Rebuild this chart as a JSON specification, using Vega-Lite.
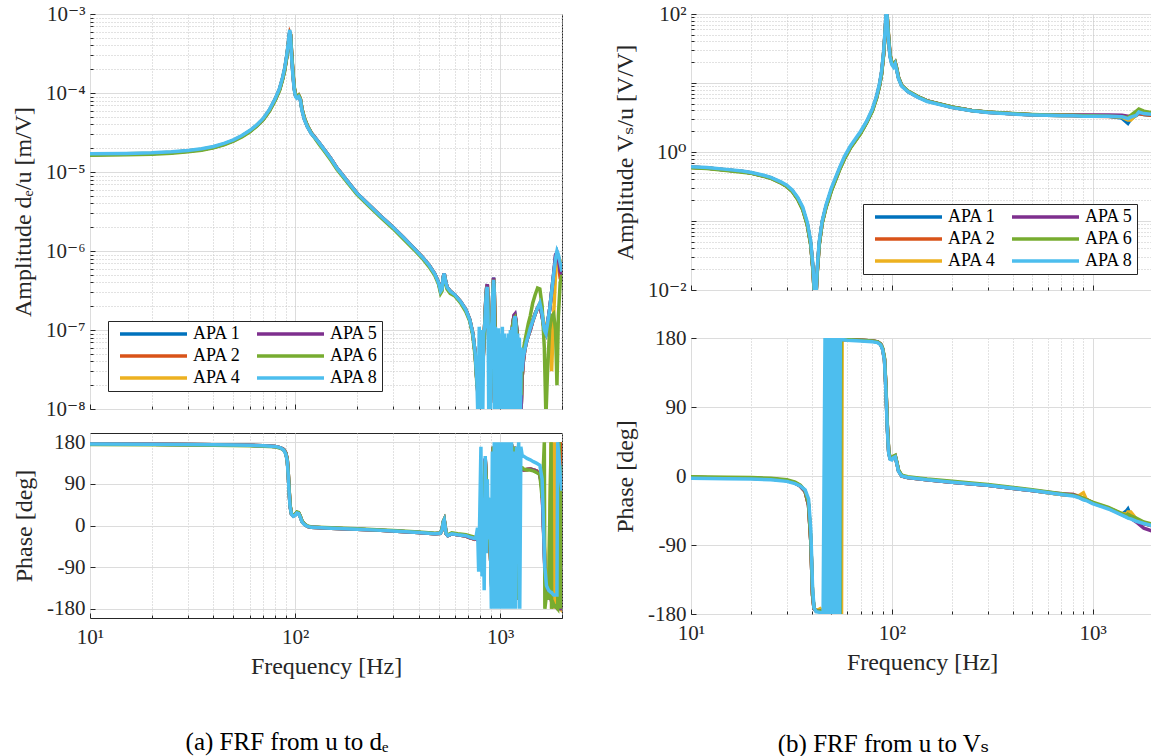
{
  "$schema": "https://vega.github.io/schema/vega-lite/v6.json",
  "background": "white",
  "padding": {"left": 11, "top": 2, "right": 0, "bottom": 0},
  "config": {
    "font": "Liberation Serif, DejaVu Serif, serif",
    "view": {"stroke": "#262626", "strokeWidth": 1},
    "axis": {
      "labelFont": "Liberation Serif, DejaVu Serif, serif", "titleFont": "Liberation Serif, DejaVu Serif, serif",
      "labelFontSize": 21, "titleFontSize": 24, "titleFontWeight": "normal",
      "labelColor": "#262626", "titleColor": "#262626", "domain": false,
      "tickColor": "#262626", "labelFlush": false, "labelOverlap": false, "labelBound": false
    },
    "legend": {
      "columns": 2, "title": null, "offset": 18,
      "symbolType": "M-1,0H66", "symbolSize": 4, "symbolStrokeWidth": 3.5,
      "labelFont": "Liberation Serif, DejaVu Serif, serif", "labelFontSize": 18,
      "labelColor": "#000", "labelOffset": 63, "strokeColor": "#262626", "fillColor": "white",
      "padding": 4, "columnPadding": 8, "rowPadding": 4
    },
    "title": {"font": "Liberation Serif, DejaVu Serif, serif", "fontSize": 25, "fontWeight": "normal", "color": "#000"}
  },
  "resolve": {"scale": {"color": "independent"}, "legend": {"color": "independent"}},
  "spacing": 50,
  "hconcat": [
    {
      "title": {"text": "(a) FRF from u to dₑ", "orient": "bottom", "anchor": "middle", "frame": "bounds", "offset": 51},
      "spacing": 10,
      "resolve": {"scale": {"color": "independent"}, "legend": {"color": "independent"}},
      "vconcat": [
        {
          "width": 472, "height": 395,
          "data": {"name": "ampDe"},
          "transform": [{"fold": ["1", "2", "4", "5", "6", "8"], "as": ["apa", "v"]}],
          "mark": {"type": "line", "strokeWidth": 3.5, "clip": true},
          "encoding": {
            "x": {"field": "f", "type": "quantitative", "scale": {"type": "log", "domain": [10, 2000]},
              "axis": {"values": [10,20,30,40,50,60,70,80,90,100,200,300,400,500,600,700,800,900,1000,2000],
                "labels": false, "title": null,
                "gridDash": {"condition": {"test": "datum.value == 10 || datum.value == 100 || datum.value == 1000", "value": []}, "value": [1, 2]},
                "gridColor": {"condition": {"test": "datum.value == 10 || datum.value == 100 || datum.value == 1000", "value": "#dcdcdc"}, "value": "#c4c4c4"},
                "tickSize": {"condition": {"test": "datum.value == 10 || datum.value == 100 || datum.value == 1000", "value": -5}, "value": -3}}},
            "y": {"field": "v", "type": "quantitative", "scale": {"type": "log", "domain": [1e-8, 1e-3]},
              "axis": {"title": "Amplitude dₑ/u [m/V]", "titlePadding": 10,
                "values": [1e-8,2e-8,3e-8,4e-8,5e-8,6e-8,7e-8,8e-8,9e-8,1e-7,2e-7,3e-7,4e-7,5e-7,6e-7,7e-7,8e-7,9e-7,1e-6,2e-6,3e-6,4e-6,5e-6,6e-6,7e-6,8e-6,9e-6,1e-5,2e-5,3e-5,4e-5,5e-5,6e-5,7e-5,8e-5,9e-5,1e-4,2e-4,3e-4,4e-4,5e-4,6e-4,7e-4,8e-4,9e-4,1e-3],
                "labelExpr": "abs(log(datum.value)/LN10 - round(log(datum.value)/LN10)) < 0.001 ? '10' + replace(replace(replace(replace(replace(replace(replace(replace(replace(replace('' + round(log(datum.value)/LN10), '-', '⁻'), '0', '⁰'), '1', '¹'), '2', '²'), '3', '³'), '4', '⁴'), '5', '⁵'), '6', '⁶'), '7', '⁷'), '8', '⁸') : ''",
                "labelPadding": 10,
                "gridDash": {"condition": {"test": "abs(log(datum.value)/LN10 - round(log(datum.value)/LN10)) < 0.001", "value": []}, "value": [1, 2]},
                "gridColor": {"condition": {"test": "abs(log(datum.value)/LN10 - round(log(datum.value)/LN10)) < 0.001", "value": "#dcdcdc"}, "value": "#c4c4c4"},
                "tickSize": {"condition": {"test": "abs(log(datum.value)/LN10 - round(log(datum.value)/LN10)) < 0.001", "value": -5}, "value": -3}}},
            "color": {"field": "apa", "type": "nominal",
              "scale": {"domain": ["1", "2", "4", "5", "6", "8"], "range": ["#0072BD", "#D95319", "#EDB120", "#7E2F8E", "#77AC30", "#4DBEEE"]},
              "legend": {"orient": "bottom-left", "labelExpr": "'APA ' + datum.label"}}
          }
        },
        {
          "width": 472, "height": 185,
          "data": {"name": "phDe"},
          "transform": [{"fold": ["1", "2", "4", "5", "6", "8"], "as": ["apa", "v"]}],
          "mark": {"type": "line", "strokeWidth": 3.5, "clip": true},
          "encoding": {
            "x": {"field": "f", "type": "quantitative", "scale": {"type": "log", "domain": [10, 2000]},
              "axis": {"values": [10,20,30,40,50,60,70,80,90,100,200,300,400,500,600,700,800,900,1000,2000],
                "labelExpr": "datum.value == 10 ? '10¹' : datum.value == 100 ? '10²' : datum.value == 1000 ? '10³' : ''",
                "title": "Frequency [Hz]", "labelPadding": 13, "titlePadding": 5,
                "gridDash": {"condition": {"test": "datum.value == 10 || datum.value == 100 || datum.value == 1000", "value": []}, "value": [1, 2]},
                "gridColor": {"condition": {"test": "datum.value == 10 || datum.value == 100 || datum.value == 1000", "value": "#dcdcdc"}, "value": "#c4c4c4"},
                "tickSize": {"condition": {"test": "datum.value == 10 || datum.value == 100 || datum.value == 1000", "value": -5}, "value": -3}}},
            "y": {"field": "v", "type": "quantitative", "scale": {"domain": [-200, 200]},
              "axis": {"title": "Phase [deg]", "titlePadding": 10, "values": [-180, -90, 0, 90, 180],
                "labelExpr": "'' + datum.value", "labelPadding": 10, "tickSize": -5, "gridColor": "#dcdcdc"}},
            "color": {"field": "apa", "type": "nominal",
              "scale": {"domain": ["1", "2", "4", "5", "6", "8"], "range": ["#0072BD", "#D95319", "#EDB120", "#7E2F8E", "#77AC30", "#4DBEEE"]},
              "legend": null}
          }
        }
      ]
    },
    {
      "title": {"text": "(b) FRF from u to Vₛ", "orient": "bottom", "anchor": "middle", "frame": "bounds", "offset": 57},
      "spacing": 25,
      "resolve": {"scale": {"color": "independent"}, "legend": {"color": "independent"}},
      "vconcat": [
        {
          "width": 462, "height": 276,
          "data": {"name": "ampVs"},
          "transform": [{"fold": ["1", "2", "4", "5", "6", "8"], "as": ["apa", "v"]}],
          "mark": {"type": "line", "strokeWidth": 3.5, "clip": true},
          "encoding": {
            "x": {"field": "f", "type": "quantitative", "scale": {"type": "log", "domain": [10, 2000]},
              "axis": {"values": [10,20,30,40,50,60,70,80,90,100,200,300,400,500,600,700,800,900,1000,2000],
                "labels": false, "title": null,
                "gridDash": {"condition": {"test": "datum.value == 10 || datum.value == 100 || datum.value == 1000", "value": []}, "value": [1, 2]},
                "gridColor": {"condition": {"test": "datum.value == 10 || datum.value == 100 || datum.value == 1000", "value": "#dcdcdc"}, "value": "#c4c4c4"},
                "tickSize": {"condition": {"test": "datum.value == 10 || datum.value == 100 || datum.value == 1000", "value": -5}, "value": -3}}},
            "y": {"field": "v", "type": "quantitative", "scale": {"type": "log", "domain": [0.01, 100]},
              "axis": {"title": "Amplitude Vₛ/u [V/V]", "titlePadding": 10,
                "values": [0.01,0.02,0.03,0.04,0.05,0.06,0.07,0.08,0.09,0.1,0.2,0.3,0.4,0.5,0.6,0.7,0.8,0.9,1,2,3,4,5,6,7,8,9,10,20,30,40,50,60,70,80,90,100],
                "labelExpr": "abs(log(datum.value)/LN10) < 0.001 || abs(abs(log(datum.value)/LN10) - 2) < 0.001 ? '10' + replace(replace(replace('' + round(log(datum.value)/LN10), '-', '⁻'), '0', '⁰'), '2', '²') : ''",
                "labelPadding": 10,
                "gridDash": {"condition": {"test": "abs(log(datum.value)/LN10 - round(log(datum.value)/LN10)) < 0.001", "value": []}, "value": [1, 2]},
                "gridColor": {"condition": {"test": "abs(log(datum.value)/LN10 - round(log(datum.value)/LN10)) < 0.001", "value": "#dcdcdc"}, "value": "#c4c4c4"},
                "tickSize": {"condition": {"test": "abs(log(datum.value)/LN10 - round(log(datum.value)/LN10)) < 0.001", "value": -5}, "value": -3}}},
            "color": {"field": "apa", "type": "nominal",
              "scale": {"domain": ["1", "2", "4", "5", "6", "8"], "range": ["#0072BD", "#D95319", "#EDB120", "#7E2F8E", "#77AC30", "#4DBEEE"]},
              "legend": {"orient": "bottom-right", "offset": 16, "labelExpr": "'APA ' + datum.label"}}
          }
        },
        {
          "width": 462, "height": 276,
          "data": {"name": "phVs"},
          "transform": [{"fold": ["1", "2", "4", "5", "6", "8"], "as": ["apa", "v"]}],
          "mark": {"type": "line", "strokeWidth": 3.5, "clip": true},
          "encoding": {
            "x": {"field": "f", "type": "quantitative", "scale": {"type": "log", "domain": [10, 2000]},
              "axis": {"values": [10,20,30,40,50,60,70,80,90,100,200,300,400,500,600,700,800,900,1000,2000],
                "labelExpr": "datum.value == 10 ? '10¹' : datum.value == 100 ? '10²' : datum.value == 1000 ? '10³' : ''",
                "title": "Frequency [Hz]", "labelPadding": 13, "titlePadding": 5,
                "gridDash": {"condition": {"test": "datum.value == 10 || datum.value == 100 || datum.value == 1000", "value": []}, "value": [1, 2]},
                "gridColor": {"condition": {"test": "datum.value == 10 || datum.value == 100 || datum.value == 1000", "value": "#dcdcdc"}, "value": "#c4c4c4"},
                "tickSize": {"condition": {"test": "datum.value == 10 || datum.value == 100 || datum.value == 1000", "value": -5}, "value": -3}}},
            "y": {"field": "v", "type": "quantitative", "scale": {"domain": [-180, 180]},
              "axis": {"title": "Phase [deg]", "titlePadding": 10, "values": [-180, -90, 0, 90, 180],
                "labelExpr": "'' + datum.value", "labelPadding": 10, "tickSize": -5, "gridColor": "#dcdcdc"}},
            "color": {"field": "apa", "type": "nominal",
              "scale": {"domain": ["1", "2", "4", "5", "6", "8"], "range": ["#0072BD", "#D95319", "#EDB120", "#7E2F8E", "#77AC30", "#4DBEEE"]},
              "legend": null}
          }
        }
      ]
    }
  ],
  "datasets": {
    "ampDe": [
      {"f":10,"1":1.67e-5,"2":1.66e-5,"4":1.68e-5,"5":1.67e-5,"6":1.63e-5,"8":1.7e-5},
      {"f":15,"1":1.69e-5,"2":1.68e-5,"4":1.7e-5,"5":1.69e-5,"6":1.65e-5,"8":1.72e-5},
      {"f":20,"1":1.72e-5,"2":1.71e-5,"4":1.73e-5,"5":1.72e-5,"6":1.68e-5,"8":1.75e-5},
      {"f":25,"1":1.77e-5,"2":1.76e-5,"4":1.78e-5,"5":1.77e-5,"6":1.73e-5,"8":1.8e-5},
      {"f":30,"1":1.84e-5,"2":1.83e-5,"4":1.85e-5,"5":1.84e-5,"6":1.8e-5,"8":1.87e-5},
      {"f":35,"1":1.93e-5,"2":1.92e-5,"4":1.94e-5,"5":1.93e-5,"6":1.89e-5,"8":1.97e-5},
      {"f":40,"1":2.06e-5,"2":2.05e-5,"4":2.07e-5,"5":2.06e-5,"6":2.02e-5,"8":2.1e-5},
      {"f":45,"1":2.25e-5,"2":2.24e-5,"4":2.26e-5,"5":2.25e-5,"6":2.21e-5,"8":2.3e-5},
      {"f":50,"1":2.5e-5,"2":2.49e-5,"4":2.51e-5,"5":2.5e-5,"6":2.45e-5,"8":2.55e-5},
      {"f":55,"1":2.84e-5,"2":2.83e-5,"4":2.85e-5,"5":2.84e-5,"6":2.78e-5,"8":2.9e-5},
      {"f":60,"1":3.28e-5,"2":3.26e-5,"4":3.3e-5,"5":3.28e-5,"6":3.2e-5,"8":3.35e-5},
      {"f":65,"1":3.87e-5,"2":3.85e-5,"4":3.9e-5,"5":3.87e-5,"6":3.8e-5,"8":3.95e-5},
      {"f":70,"1":4.7e-5,"2":4.65e-5,"4":4.72e-5,"5":4.7e-5,"6":4.6e-5,"8":4.8e-5},
      {"f":75,"1":6.05e-5,"2":6e-5,"4":6.1e-5,"5":6.05e-5,"6":5.9e-5,"8":6.2e-5},
      {"f":80,"1":8.3e-5,"2":8.2e-5,"4":8.35e-5,"5":8.3e-5,"6":8.1e-5,"8":8.5e-5},
      {"f":84,"1":1.12e-4,"2":1.1e-4,"4":1.13e-4,"5":1.12e-4,"6":1.08e-4,"8":1.15e-4},
      {"f":87,"1":1.55e-4,"2":1.52e-4,"4":1.56e-4,"5":1.55e-4,"6":1.5e-4,"8":1.6e-4},
      {"f":89,"1":2.0e-4,"2":1.97e-4,"4":2.02e-4,"5":2.0e-4,"6":1.95e-4,"8":2.1e-4},
      {"f":91,"1":2.9e-4,"2":2.85e-4,"4":2.92e-4,"5":2.9e-4,"6":2.8e-4,"8":3.0e-4},
      {"f":92.5,"1":4.0e-4,"2":3.9e-4,"4":4.05e-4,"5":4.0e-4,"6":3.9e-4,"8":4.2e-4},
      {"f":93.5,"1":5.3e-4,"2":5.2e-4,"4":5.3e-4,"5":5.3e-4,"6":5.0e-4,"8":5.6e-4},
      {"f":94.2,"1":5.9e-4,"2":5.8e-4,"4":5.9e-4,"5":5.9e-4,"6":5.6e-4,"8":6.3e-4},
      {"f":95,"1":5.4e-4,"2":5.5e-4,"4":5.4e-4,"5":5.4e-4,"6":5.5e-4,"8":5.2e-4},
      {"f":96,"1":3.3e-4,"2":3.4e-4,"4":3.3e-4,"5":3.3e-4,"6":3.5e-4,"8":3.0e-4},
      {"f":97.5,"1":1.8e-4,"2":1.85e-4,"4":1.8e-4,"5":1.8e-4,"6":1.9e-4,"8":1.7e-4},
      {"f":99,"1":1.15e-4,"2":1.17e-4,"4":1.15e-4,"5":1.15e-4,"6":1.2e-4,"8":1.1e-4},
      {"f":100.5,"1":9.3e-5,"2":9.4e-5,"4":9.3e-5,"5":9.3e-5,"6":9.5e-5,"8":9.0e-5},
      {"f":102,"1":8.9e-5,"2":9.0e-5,"4":8.9e-5,"5":8.9e-5,"6":9.1e-5,"8":8.6e-5},
      {"f":104,"1":9.3e-5,"2":9.4e-5,"4":9.3e-5,"5":9.3e-5,"6":9.4e-5,"8":9.0e-5},
      {"f":106,"1":8.4e-5,"2":8.5e-5,"4":8.4e-5,"5":8.4e-5,"6":8.5e-5,"8":8.2e-5},
      {"f":108,"1":6.2e-5,"2":6.3e-5,"4":6.2e-5,"5":6.2e-5,"6":6.3e-5,"8":6.0e-5},
      {"f":111,"1":4.7e-5,"2":4.8e-5,"4":4.7e-5,"5":4.7e-5,"6":4.8e-5,"8":4.6e-5},
      {"f":115,"1":3.75e-5,"2":3.8e-5,"4":3.75e-5,"5":3.75e-5,"6":3.8e-5,"8":3.7e-5},
      {"f":120,"1":3.1e-5,"2":3.1e-5,"4":3.1e-5,"5":3.1e-5,"6":3.1e-5,"8":3.05e-5},
      {"f":130,"1":2.4e-5,"2":2.4e-5,"4":2.4e-5,"5":2.4e-5,"6":2.3e-5,"8":2.4e-5},
      {"f":140,"1":1.85e-5,"2":1.85e-5,"4":1.85e-5,"5":1.85e-5,"6":1.78e-5,"8":1.85e-5},
      {"f":150,"1":1.45e-5,"2":1.45e-5,"4":1.45e-5,"5":1.45e-5,"6":1.39e-5,"8":1.45e-5},
      {"f":160,"1":1.12e-5,"2":1.12e-5,"4":1.12e-5,"5":1.12e-5,"6":1.08e-5,"8":1.12e-5},
      {"f":180,"1":7.6e-6,"2":7.6e-6,"4":7.6e-6,"5":7.6e-6,"6":7.3e-6,"8":7.6e-6},
      {"f":200,"1":5.4e-6,"2":5.4e-6,"4":5.4e-6,"5":5.4e-6,"6":5.2e-6,"8":5.4e-6},
      {"f":230,"1":3.8e-6,"2":3.8e-6,"4":3.8e-6,"5":3.8e-6,"6":3.65e-6,"8":3.8e-6},
      {"f":260,"1":2.8e-6,"2":2.8e-6,"4":2.8e-6,"5":2.8e-6,"6":2.7e-6,"8":2.8e-6},
      {"f":300,"1":2.0e-6,"2":2.0e-6,"4":2.0e-6,"5":2.0e-6,"6":1.92e-6,"8":2.0e-6},
      {"f":340,"1":1.45e-6,"2":1.45e-6,"4":1.45e-6,"5":1.45e-6,"6":1.39e-6,"8":1.45e-6},
      {"f":380,"1":1.08e-6,"2":1.08e-6,"4":1.08e-6,"5":1.08e-6,"6":1.04e-6,"8":1.08e-6},
      {"f":420,"1":8.2e-7,"2":8.2e-7,"4":8.2e-7,"5":8.2e-7,"6":7.9e-7,"8":8.2e-7},
      {"f":450,"1":6.6e-7,"2":6.6e-7,"4":6.6e-7,"5":6.6e-7,"6":6.3e-7,"8":6.6e-7},
      {"f":480,"1":5.1e-7,"2":5.1e-7,"4":5.1e-7,"5":5.1e-7,"6":4.9e-7,"8":5.1e-7},
      {"f":500,"1":4.0e-7,"2":4.0e-7,"4":4.0e-7,"5":4.0e-7,"6":3.8e-7,"8":4.0e-7},
      {"f":512,"1":3.1e-7,"2":3.1e-7,"4":3.1e-7,"5":3.1e-7,"6":2.9e-7,"8":3.1e-7},
      {"f":520,"1":3.3e-7,"2":3.3e-7,"4":3.3e-7,"5":3.3e-7,"6":3.1e-7,"8":3.3e-7},
      {"f":527,"1":4.6e-7,"2":4.6e-7,"4":4.6e-7,"5":4.6e-7,"6":4.4e-7,"8":4.6e-7},
      {"f":533,"1":5.2e-7,"2":5.2e-7,"4":5.2e-7,"5":5.2e-7,"6":5.0e-7,"8":5.2e-7},
      {"f":540,"1":4.3e-7,"2":4.3e-7,"4":4.3e-7,"5":4.3e-7,"6":4.1e-7,"8":4.3e-7},
      {"f":550,"1":3.5e-7,"2":3.5e-7,"4":3.5e-7,"5":3.5e-7,"6":3.3e-7,"8":3.5e-7},
      {"f":570,"1":3.1e-7,"2":3.1e-7,"4":3.1e-7,"5":3.1e-7,"6":2.9e-7,"8":3.1e-7},
      {"f":600,"1":2.8e-7,"2":2.8e-7,"4":2.8e-7,"5":2.8e-7,"6":2.7e-7,"8":2.8e-7},
      {"f":640,"1":2.3e-7,"2":2.3e-7,"4":2.3e-7,"5":2.3e-7,"6":2.2e-7,"8":2.3e-7},
      {"f":680,"1":1.8e-7,"2":1.8e-7,"4":1.8e-7,"5":1.8e-7,"6":1.7e-7,"8":1.8e-7},
      {"f":710,"1":1.35e-7,"2":1.35e-7,"4":1.35e-7,"5":1.35e-7,"6":1.3e-7,"8":1.35e-7},
      {"f":735,"1":9e-8,"2":9e-8,"4":9e-8,"5":9e-8,"6":8.5e-8,"8":9e-8},
      {"f":755,"1":5e-8,"2":5e-8,"4":5e-8,"5":5e-8,"6":4.5e-8,"8":5e-8},
      {"f":770,"1":2.2e-8,"2":2.2e-8,"4":2.2e-8,"5":2.2e-8,"6":2e-8,"8":2.2e-8},
      {"f":780,"1":1.5e-8,"2":1.5e-8,"4":1.4e-8,"5":1.5e-8,"6":1.8e-8,"8":6e-9},
      {"f":790,"1":8e-9,"2":8e-9,"4":9e-9,"5":8e-9,"6":1.2e-8,"8":1.1e-7},
      {"f":800,"1":6e-9,"2":7e-9,"4":6e-9,"5":6e-9,"6":8e-9,"8":5e-9},
      {"f":810,"1":1.5e-8,"2":1.4e-8,"4":1.5e-8,"5":1.5e-8,"6":1.8e-8,"8":1e-7},
      {"f":820,"1":3e-8,"2":2.9e-8,"4":3e-8,"5":3e-8,"6":3.2e-8,"8":5e-9},
      {"f":830,"1":6e-8,"2":5.8e-8,"4":6e-8,"5":6e-8,"6":6.2e-8,"8":9e-8},
      {"f":840,"1":1.2e-7,"2":1.15e-7,"4":1.2e-7,"5":1.2e-7,"6":1.15e-7,"8":1.1e-7},
      {"f":850,"1":2.4e-7,"2":2.3e-7,"4":2.35e-7,"5":2.4e-7,"6":2.2e-7,"8":2.2e-7},
      {"f":858,"1":3.4e-7,"2":3.3e-7,"4":3.35e-7,"5":3.4e-7,"6":3.1e-7,"8":3.2e-7},
      {"f":865,"1":3.8e-7,"2":3.7e-7,"4":3.75e-7,"5":3.8e-7,"6":3.5e-7,"8":3.5e-7},
      {"f":872,"1":2.2e-7,"2":2.1e-7,"4":2.2e-7,"5":2.2e-7,"6":2e-7,"8":1.5e-7},
      {"f":880,"1":6e-8,"2":6e-8,"4":6e-8,"5":6e-8,"6":6e-8,"8":5e-9},
      {"f":888,"1":2e-8,"2":2e-8,"4":2e-8,"5":2e-8,"6":2e-8,"8":9e-8},
      {"f":896,"1":1.2e-8,"2":1.2e-8,"4":1.2e-8,"5":1.2e-8,"6":1.3e-8,"8":5e-9},
      {"f":904,"1":3e-8,"2":3e-8,"4":3e-8,"5":3e-8,"6":3e-8,"8":1e-7},
      {"f":912,"1":1.2e-7,"2":1.15e-7,"4":1.2e-7,"5":1.2e-7,"6":1.1e-7,"8":1.3e-7},
      {"f":920,"1":3.2e-7,"2":3.1e-7,"4":3.1e-7,"5":3.2e-7,"6":3e-7,"8":2.8e-7},
      {"f":928,"1":4.6e-7,"2":4.5e-7,"4":4.5e-7,"5":4.6e-7,"6":4.3e-7,"8":4.3e-7},
      {"f":934,"1":3.6e-7,"2":3.5e-7,"4":3.5e-7,"5":3.6e-7,"6":3.3e-7,"8":3.2e-7},
      {"f":940,"1":1.6e-7,"2":1.5e-7,"4":1.6e-7,"5":1.6e-7,"6":1.5e-7,"8":5e-9},
      {"f":948,"1":6e-8,"2":6e-8,"4":6e-8,"5":6e-8,"6":6e-8,"8":1.1e-7},
      {"f":956,"1":2.5e-8,"2":2.5e-8,"4":2.5e-8,"5":2.5e-8,"6":2.5e-8,"8":5e-9},
      {"f":964,"1":1e-8,"2":1e-8,"4":1e-8,"5":1e-8,"6":1.1e-8,"8":1e-7},
      {"f":972,"1":7e-9,"2":7e-9,"4":7e-9,"5":7e-9,"6":8e-9,"8":5e-9},
      {"f":980,"1":6e-9,"2":6e-9,"4":6e-9,"5":6e-9,"6":7e-9,"8":1.05e-7},
      {"f":990,"1":1.2e-8,"2":1.2e-8,"4":1.2e-8,"5":1.2e-8,"6":1.3e-8,"8":5e-9},
      {"f":1000,"1":3e-8,"2":3e-8,"4":3e-8,"5":3e-8,"6":3e-8,"8":9e-8},
      {"f":1012,"1":5e-8,"2":5e-8,"4":5e-8,"5":5e-8,"6":5e-8,"8":5e-9},
      {"f":1024,"1":4e-8,"2":4e-8,"4":4e-8,"5":4e-8,"6":4e-8,"8":1.1e-7},
      {"f":1036,"1":2.2e-8,"2":2.2e-8,"4":2.2e-8,"5":2.2e-8,"6":2.2e-8,"8":5e-9},
      {"f":1048,"1":1e-8,"2":1e-8,"4":1e-8,"5":1e-8,"6":1.1e-8,"8":9e-8},
      {"f":1060,"1":7e-9,"2":7e-9,"4":7e-9,"5":7e-9,"6":8e-9,"8":5e-9},
      {"f":1072,"1":6e-9,"2":6e-9,"4":6e-9,"5":6e-9,"6":7e-9,"8":8e-8},
      {"f":1084,"1":1e-8,"2":1e-8,"4":1e-8,"5":1e-8,"6":1.1e-8,"8":5e-9},
      {"f":1096,"1":2.5e-8,"2":2.5e-8,"4":2.5e-8,"5":2.5e-8,"6":2.5e-8,"8":9e-8},
      {"f":1108,"1":4e-8,"2":4e-8,"4":4e-8,"5":4e-8,"6":4e-8,"8":6e-9},
      {"f":1120,"1":6e-8,"2":6e-8,"4":6e-8,"5":6e-8,"6":6e-8,"8":1e-7},
      {"f":1132,"1":8e-8,"2":8e-8,"4":8e-8,"5":8e-8,"6":8e-8,"8":5e-9},
      {"f":1144,"1":1.05e-7,"2":1.05e-7,"4":1.05e-7,"5":1.05e-7,"6":1e-7,"8":1.1e-7},
      {"f":1156,"1":1.3e-7,"2":1.3e-7,"4":1.3e-7,"5":1.3e-7,"6":1.25e-7,"8":6e-9},
      {"f":1168,"1":1.5e-7,"2":1.5e-7,"4":1.4e-7,"5":1.55e-7,"6":1.4e-7,"8":1.3e-7},
      {"f":1180,"1":1.55e-7,"2":1.5e-7,"4":1.2e-7,"5":1.6e-7,"6":1.45e-7,"8":1.5e-7},
      {"f":1192,"1":1.3e-7,"2":1.3e-7,"4":6e-8,"5":1.35e-7,"6":1.25e-7,"8":1.2e-7},
      {"f":1204,"1":1e-7,"2":1e-7,"4":3e-8,"5":1e-7,"6":9.5e-8,"8":5e-9},
      {"f":1216,"1":7e-8,"2":7e-8,"4":5e-8,"5":7e-8,"6":7e-8,"8":9e-8},
      {"f":1228,"1":4e-8,"2":4e-8,"4":4e-8,"5":4e-8,"6":4.5e-8,"8":5e-9},
      {"f":1240,"1":2.5e-8,"2":2.5e-8,"4":2.5e-8,"5":2.5e-8,"6":3e-8,"8":8e-8},
      {"f":1252,"1":1.5e-8,"2":1.5e-8,"4":1.5e-8,"5":1.5e-8,"6":2e-8,"8":5e-9},
      {"f":1264,"1":1e-8,"2":1e-8,"4":1e-8,"5":1e-8,"6":1.5e-8,"8":6e-8},
      {"f":1278,"1":2.5e-8,"2":2.5e-8,"4":2.5e-8,"5":2.5e-8,"6":3.5e-8,"8":3e-8},
      {"f":1295,"1":4e-8,"2":4e-8,"4":4e-8,"5":4e-8,"6":5.5e-8,"8":4.5e-8},
      {"f":1315,"1":5.5e-8,"2":5.5e-8,"4":5.5e-8,"5":5.5e-8,"6":7e-8,"8":5.5e-8},
      {"f":1340,"1":7e-8,"2":7e-8,"4":7e-8,"5":7e-8,"6":9e-8,"8":7e-8},
      {"f":1370,"1":8.5e-8,"2":8.5e-8,"4":8.5e-8,"5":8.5e-8,"6":1.2e-7,"8":8.5e-8},
      {"f":1400,"1":1e-7,"2":1e-7,"4":1e-7,"5":1e-7,"6":1.5e-7,"8":1.05e-7},
      {"f":1440,"1":1.3e-7,"2":1.3e-7,"4":1.3e-7,"5":1.3e-7,"6":2.2e-7,"8":1.3e-7},
      {"f":1480,"1":1.6e-7,"2":1.6e-7,"4":1.6e-7,"5":1.6e-7,"6":2.8e-7,"8":1.6e-7},
      {"f":1520,"1":1.9e-7,"2":1.9e-7,"4":1.9e-7,"5":1.9e-7,"6":3.4e-7,"8":1.9e-7},
      {"f":1560,"1":2.1e-7,"2":2.1e-7,"4":2.2e-7,"5":2.1e-7,"6":3.3e-7,"8":2.2e-7},
      {"f":1600,"1":1.5e-7,"2":1.5e-7,"4":1.6e-7,"5":1.5e-7,"6":2e-7,"8":1.6e-7},
      {"f":1640,"1":1e-7,"2":1e-7,"4":1.1e-7,"5":1e-7,"6":6e-8,"8":1e-7},
      {"f":1670,"1":9e-8,"2":9e-8,"4":1e-7,"5":9e-8,"6":8e-9,"8":9e-8},
      {"f":1700,"1":1.2e-7,"2":1.2e-7,"4":1.3e-7,"5":1.2e-7,"6":3e-8,"8":1.2e-7},
      {"f":1740,"1":1.8e-7,"2":1.8e-7,"4":1.4e-7,"5":1.8e-7,"6":1e-7,"8":1.8e-7},
      {"f":1780,"1":3e-7,"2":3e-7,"4":3e-8,"5":3e-7,"6":1.5e-7,"8":3e-7},
      {"f":1820,"1":5e-7,"2":4.8e-7,"4":1.5e-7,"5":5e-7,"6":1.6e-7,"8":5e-7},
      {"f":1860,"1":8.5e-7,"2":8e-7,"4":5e-7,"5":9e-7,"6":1e-7,"8":8e-7},
      {"f":1890,"1":9.5e-7,"2":9.5e-7,"4":8e-7,"5":9.5e-7,"6":2e-8,"8":1e-6},
      {"f":1920,"1":8e-7,"2":7e-7,"4":8.5e-7,"5":8e-7,"6":1.5e-7,"8":9e-7},
      {"f":1960,"1":6e-7,"2":4.5e-7,"4":7.5e-7,"5":5.5e-7,"6":4e-7,"8":7e-7},
      {"f":2000,"1":5e-7,"2":4e-7,"4":6.5e-7,"5":5e-7,"6":5e-7,"8":5.5e-7}
    ],
    "phDe": [
      {"f":10,"1":176,"2":176,"4":176,"5":176,"6":175,"8":176},
      {"f":20,"1":175.5,"2":175.5,"4":175.5,"5":175.5,"6":174.5,"8":175.5},
      {"f":30,"1":175,"2":175,"4":175,"5":175,"6":174,"8":175},
      {"f":40,"1":174.5,"2":174.5,"4":174.5,"5":174.5,"6":173.5,"8":174.5},
      {"f":50,"1":174,"2":174,"4":174,"5":174,"6":173,"8":174},
      {"f":60,"1":173.5,"2":173.5,"4":173.5,"5":173.5,"6":172.5,"8":173.5},
      {"f":70,"1":172.5,"2":172.5,"4":172.5,"5":172.5,"6":171.5,"8":172.5},
      {"f":80,"1":171,"2":171,"4":171,"5":171,"6":170,"8":171},
      {"f":85,"1":168,"2":168,"4":168,"5":168,"6":167,"8":168},
      {"f":88,"1":164,"2":164,"4":164,"5":164,"6":163,"8":163},
      {"f":90,"1":157,"2":157,"4":157,"5":157,"6":156,"8":155},
      {"f":91.5,"1":143,"2":143,"4":143,"5":143,"6":142,"8":140},
      {"f":92.5,"1":115,"2":115,"4":115,"5":115,"6":116,"8":110},
      {"f":93.5,"1":75,"2":75,"4":75,"5":75,"6":78,"8":70},
      {"f":94.5,"1":42,"2":42,"4":42,"5":42,"6":45,"8":40},
      {"f":96,"1":25,"2":25,"4":25,"5":25,"6":26,"8":24},
      {"f":98,"1":21,"2":21,"4":21,"5":21,"6":22,"8":20},
      {"f":100,"1":23,"2":23,"4":23,"5":23,"6":24,"8":22},
      {"f":102,"1":28,"2":28,"4":28,"5":28,"6":29,"8":27},
      {"f":104,"1":27,"2":27,"4":27,"5":27,"6":28,"8":26},
      {"f":106,"1":19,"2":19,"4":19,"5":19,"6":20,"8":18},
      {"f":108,"1":9,"2":9,"4":9,"5":9,"6":10,"8":8},
      {"f":111,"1":3,"2":3,"4":3,"5":3,"6":3,"8":2},
      {"f":115,"1":-2,"2":-2,"4":-2,"5":-2,"6":-1,"8":-2},
      {"f":120,"1":-4,"2":-4,"4":-4,"5":-4,"6":-3,"8":-4},
      {"f":150,"1":-6,"2":-6,"4":-6,"5":-6,"6":-5,"8":-6},
      {"f":200,"1":-8,"2":-8,"4":-8,"5":-8,"6":-7,"8":-8},
      {"f":250,"1":-10,"2":-10,"4":-10,"5":-10,"6":-9,"8":-10},
      {"f":300,"1":-12,"2":-12,"4":-12,"5":-12,"6":-11,"8":-12},
      {"f":400,"1":-15,"2":-15,"4":-15,"5":-15,"6":-14,"8":-15},
      {"f":480,"1":-18,"2":-18,"4":-18,"5":-18,"6":-17,"8":-18},
      {"f":510,"1":-17,"2":-17,"4":-17,"5":-17,"6":-16,"8":-17},
      {"f":520,"1":-10,"2":-10,"4":-10,"5":-10,"6":-9,"8":-10},
      {"f":528,"1":8,"2":8,"4":8,"5":8,"6":9,"8":8},
      {"f":533,"1":12,"2":12,"4":12,"5":12,"6":13,"8":12},
      {"f":538,"1":0,"2":0,"4":0,"5":0,"6":1,"8":0},
      {"f":545,"1":-18,"2":-18,"4":-18,"5":-18,"6":-17,"8":-18},
      {"f":555,"1":-22,"2":-22,"4":-22,"5":-22,"6":-20,"8":-22},
      {"f":580,"1":-18,"2":-18,"4":-18,"5":-18,"6":-16,"8":-18},
      {"f":620,"1":-20,"2":-20,"4":-20,"5":-20,"6":-18,"8":-20},
      {"f":680,"1":-23,"2":-23,"4":-23,"5":-23,"6":-20,"8":-22},
      {"f":720,"1":-27,"2":-27,"4":-27,"5":-27,"6":-23,"8":-26},
      {"f":750,"1":-29,"2":-30,"4":-29,"5":-29,"6":-25,"8":-28},
      {"f":760,"1":-28,"2":-28,"4":-27,"5":-28,"6":-26,"8":-28},
      {"f":775,"1":-30,"2":-31,"4":-30,"5":-31,"6":-28,"8":-5},
      {"f":785,"1":-25,"2":-26,"4":-25,"5":-25,"6":-24,"8":-100},
      {"f":795,"1":-15,"2":-16,"4":-15,"5":-15,"6":-14,"8":30},
      {"f":805,"1":-5,"2":-5,"4":-5,"5":-5,"6":-4,"8":170},
      {"f":815,"1":5,"2":5,"4":5,"5":5,"6":6,"8":-110},
      {"f":825,"1":30,"2":28,"4":30,"5":30,"6":32,"8":60},
      {"f":835,"1":80,"2":75,"4":80,"5":80,"6":85,"8":-140},
      {"f":845,"1":145,"2":140,"4":140,"5":145,"6":140,"8":150},
      {"f":855,"1":100,"2":100,"4":100,"5":100,"6":100,"8":-60},
      {"f":865,"1":60,"2":60,"4":60,"5":60,"6":60,"8":100},
      {"f":875,"1":20,"2":20,"4":20,"5":20,"6":20,"8":-30},
      {"f":885,"1":-20,"2":-20,"4":-20,"5":-20,"6":-20,"8":60},
      {"f":895,"1":-60,"2":-60,"4":-60,"5":-60,"6":-60,"8":-20},
      {"f":905,"1":-110,"2":-110,"4":-110,"5":-110,"6":-110,"8":-180},
      {"f":915,"1":-170,"2":-170,"4":-170,"5":-170,"6":-170,"8":160},
      {"f":925,"1":170,"2":170,"4":170,"5":170,"6":170,"8":-180},
      {"f":935,"1":120,"2":120,"4":120,"5":120,"6":120,"8":180},
      {"f":945,"1":60,"2":60,"4":60,"5":60,"6":60,"8":-180},
      {"f":955,"1":-40,"2":-40,"4":-40,"5":-40,"6":-40,"8":180},
      {"f":965,"1":-120,"2":-120,"4":-120,"5":-120,"6":-120,"8":-180},
      {"f":975,"1":170,"2":170,"4":170,"5":170,"6":170,"8":180},
      {"f":985,"1":80,"2":80,"4":80,"5":80,"6":80,"8":-180},
      {"f":995,"1":-100,"2":-100,"4":-100,"5":-100,"6":-100,"8":180},
      {"f":1005,"1":160,"2":160,"4":160,"5":160,"6":160,"8":-180},
      {"f":1015,"1":-160,"2":-160,"4":-160,"5":-160,"6":-160,"8":170},
      {"f":1025,"1":100,"2":100,"4":100,"5":100,"6":100,"8":-180},
      {"f":1035,"1":-50,"2":-50,"4":-50,"5":-50,"6":-50,"8":180},
      {"f":1045,"1":150,"2":150,"4":150,"5":150,"6":150,"8":-175},
      {"f":1055,"1":-170,"2":-170,"4":-170,"5":-170,"6":-170,"8":180},
      {"f":1065,"1":90,"2":90,"4":90,"5":90,"6":90,"8":-180},
      {"f":1075,"1":-120,"2":-120,"4":-120,"5":-120,"6":-120,"8":175},
      {"f":1085,"1":170,"2":170,"4":170,"5":170,"6":170,"8":-180},
      {"f":1095,"1":-30,"2":-30,"4":-30,"5":-30,"6":-30,"8":180},
      {"f":1105,"1":-170,"2":-170,"4":-170,"5":-170,"6":-170,"8":-180},
      {"f":1115,"1":140,"2":140,"4":140,"5":140,"6":140,"8":170},
      {"f":1125,"1":-90,"2":-90,"4":-90,"5":-90,"6":-90,"8":-170},
      {"f":1135,"1":175,"2":175,"4":175,"5":175,"6":175,"8":180},
      {"f":1145,"1":60,"2":60,"4":60,"5":60,"6":60,"8":-180},
      {"f":1160,"1":-150,"2":-150,"4":-150,"5":-150,"6":-150,"8":160},
      {"f":1175,"1":170,"2":170,"4":170,"5":170,"6":170,"8":120},
      {"f":1190,"1":100,"2":100,"4":100,"5":100,"6":100,"8":-180},
      {"f":1200,"1":-160,"2":-160,"4":-160,"5":-160,"6":-160,"8":170},
      {"f":1215,"1":160,"2":160,"4":160,"5":160,"6":160,"8":140},
      {"f":1230,"1":140,"2":140,"4":140,"5":140,"6":140,"8":180},
      {"f":1245,"1":130,"2":130,"4":130,"5":130,"6":130,"8":-180},
      {"f":1260,"1":125,"2":125,"4":125,"5":125,"6":125,"8":170},
      {"f":1280,"1":122,"2":122,"4":122,"5":122,"6":125,"8":150},
      {"f":1300,"1":120,"2":120,"4":120,"5":120,"6":122,"8":150},
      {"f":1350,"1":121,"2":121,"4":121,"5":121,"6":120,"8":145},
      {"f":1400,"1":122,"2":122,"4":122,"5":122,"6":120,"8":142},
      {"f":1450,"1":120,"2":120,"4":120,"5":120,"6":118,"8":138},
      {"f":1500,"1":118,"2":118,"4":118,"5":118,"6":115,"8":135},
      {"f":1560,"1":112,"2":112,"4":115,"5":110,"6":110,"8":130},
      {"f":1600,"1":80,"2":80,"4":85,"5":75,"6":60,"8":100},
      {"f":1640,"1":-50,"2":-50,"4":-40,"5":-60,"6":180,"8":-60},
      {"f":1650,"1":-90,"2":-90,"4":-80,"5":-100,"6":-180,"8":-90},
      {"f":1680,"1":-130,"2":-130,"4":-120,"5":-140,"6":-150,"8":-130},
      {"f":1720,"1":-145,"2":-145,"4":-135,"5":-155,"6":-160,"8":-140},
      {"f":1770,"1":-150,"2":-150,"4":180,"5":-160,"6":180,"8":-145},
      {"f":1780,"1":-152,"2":-152,"4":-180,"5":-165,"6":-180,"8":-145},
      {"f":1800,"1":-155,"2":-155,"4":180,"5":-170,"6":-165,"8":-148},
      {"f":1820,"1":-158,"2":-158,"4":-180,"5":-172,"6":-170,"8":-150},
      {"f":1850,"1":-160,"2":-160,"4":180,"5":-175,"6":-175,"8":-150},
      {"f":1890,"1":-165,"2":-165,"4":-170,"5":-178,"6":-178,"8":-150},
      {"f":1905,"1":-170,"2":-168,"4":-175,"5":-180,"6":-180,"8":180},
      {"f":1940,"1":-170,"2":-170,"4":-178,"5":-180,"6":180,"8":140},
      {"f":1960,"1":180,"2":180,"4":-180,"5":-180,"6":-180,"8":110},
      {"f":2000,"1":120,"2":130,"4":100,"5":110,"6":130,"8":75}
    ],
    "ampVs": [
      {"f":10,"1":0.6,"2":0.6,"4":0.6,"5":0.6,"6":0.59,"8":0.61},
      {"f":12,"1":0.585,"2":0.585,"4":0.585,"5":0.585,"6":0.575,"8":0.595},
      {"f":15,"1":0.55,"2":0.55,"4":0.55,"5":0.55,"6":0.54,"8":0.56},
      {"f":18,"1":0.52,"2":0.52,"4":0.52,"5":0.52,"6":0.51,"8":0.53},
      {"f":20,"1":0.495,"2":0.495,"4":0.495,"5":0.495,"6":0.49,"8":0.505},
      {"f":23,"1":0.45,"2":0.45,"4":0.45,"5":0.45,"6":0.445,"8":0.46},
      {"f":25,"1":0.42,"2":0.42,"4":0.42,"5":0.42,"6":0.415,"8":0.43},
      {"f":28,"1":0.36,"2":0.36,"4":0.36,"5":0.36,"6":0.355,"8":0.37},
      {"f":30,"1":0.32,"2":0.32,"4":0.32,"5":0.32,"6":0.315,"8":0.33},
      {"f":32,"1":0.27,"2":0.27,"4":0.27,"5":0.27,"6":0.265,"8":0.28},
      {"f":34,"1":0.21,"2":0.21,"4":0.21,"5":0.21,"6":0.205,"8":0.22},
      {"f":36,"1":0.15,"2":0.15,"4":0.15,"5":0.15,"6":0.145,"8":0.16},
      {"f":38,"1":0.088,"2":0.088,"4":0.088,"5":0.088,"6":0.085,"8":0.095},
      {"f":39.5,"1":0.046,"2":0.046,"4":0.046,"5":0.046,"6":0.044,"8":0.05},
      {"f":40.5,"1":0.02,"2":0.02,"4":0.02,"5":0.02,"6":0.019,"8":0.022},
      {"f":41.2,"1":0.008,"2":0.008,"4":0.008,"5":0.008,"6":0.008,"8":0.009},
      {"f":41.8,"1":0.007,"2":0.007,"4":0.007,"5":0.007,"6":0.007,"8":0.007},
      {"f":42.5,"1":0.018,"2":0.018,"4":0.018,"5":0.018,"6":0.017,"8":0.02},
      {"f":43.5,"1":0.046,"2":0.046,"4":0.046,"5":0.046,"6":0.044,"8":0.05},
      {"f":45,"1":0.095,"2":0.095,"4":0.095,"5":0.095,"6":0.092,"8":0.1},
      {"f":47,"1":0.16,"2":0.16,"4":0.16,"5":0.16,"6":0.155,"8":0.17},
      {"f":50,"1":0.28,"2":0.28,"4":0.28,"5":0.28,"6":0.27,"8":0.3},
      {"f":55,"1":0.57,"2":0.57,"4":0.57,"5":0.57,"6":0.55,"8":0.6},
      {"f":58,"1":0.8,"2":0.8,"4":0.8,"5":0.8,"6":0.78,"8":0.85},
      {"f":62,"1":1.15,"2":1.15,"4":1.15,"5":1.15,"6":1.12,"8":1.2},
      {"f":70,"1":1.9,"2":1.9,"4":1.9,"5":1.9,"6":1.85,"8":2.0},
      {"f":75,"1":2.7,"2":2.7,"4":2.7,"5":2.7,"6":2.65,"8":2.8},
      {"f":80,"1":4.0,"2":4.0,"4":4.0,"5":4.0,"6":3.9,"8":4.2},
      {"f":84,"1":6.2,"2":6.2,"4":6.2,"5":6.2,"6":6.0,"8":6.5},
      {"f":87,"1":9.5,"2":9.5,"4":9.5,"5":9.5,"6":9.2,"8":10},
      {"f":89,"1":14,"2":14,"4":14,"5":14,"6":13.5,"8":15},
      {"f":91,"1":26,"2":26,"4":26,"5":26,"6":25,"8":28},
      {"f":92.5,"1":50,"2":50,"4":50,"5":50,"6":48,"8":55},
      {"f":93.5,"1":85,"2":85,"4":85,"5":85,"6":80,"8":95},
      {"f":94.3,"1":100,"2":100,"4":100,"5":100,"6":95,"8":115},
      {"f":95,"1":85,"2":88,"4":85,"5":85,"6":90,"8":80},
      {"f":96.5,"1":43,"2":45,"4":43,"5":43,"6":46,"8":40},
      {"f":98,"1":25,"2":26,"4":25,"5":25,"6":26,"8":24},
      {"f":100,"1":19.5,"2":20,"4":19.5,"5":19.5,"6":20,"8":18.5},
      {"f":102,"1":18,"2":18.5,"4":18,"5":18,"6":18.5,"8":17},
      {"f":104,"1":19.5,"2":20,"4":19.5,"5":19.5,"6":20,"8":19},
      {"f":106,"1":15.5,"2":16,"4":15.5,"5":15.5,"6":16,"8":15},
      {"f":108,"1":12,"2":12,"4":12,"5":12,"6":12,"8":11.5},
      {"f":112,"1":9.2,"2":9.2,"4":9.2,"5":9.2,"6":9.3,"8":9},
      {"f":120,"1":7.6,"2":7.6,"4":7.6,"5":7.6,"6":7.7,"8":7.5},
      {"f":135,"1":6.3,"2":6.3,"4":6.3,"5":6.3,"6":6.35,"8":6.2},
      {"f":150,"1":5.5,"2":5.5,"4":5.5,"5":5.5,"6":5.5,"8":5.4},
      {"f":200,"1":4.45,"2":4.45,"4":4.45,"5":4.45,"6":4.5,"8":4.4},
      {"f":250,"1":4.0,"2":4.0,"4":4.0,"5":4.0,"6":4.0,"8":3.95},
      {"f":300,"1":3.78,"2":3.78,"4":3.78,"5":3.78,"6":3.8,"8":3.75},
      {"f":400,"1":3.57,"2":3.57,"4":3.57,"5":3.57,"6":3.6,"8":3.55},
      {"f":500,"1":3.47,"2":3.47,"4":3.47,"5":3.47,"6":3.5,"8":3.45},
      {"f":600,"1":3.42,"2":3.42,"4":3.42,"5":3.42,"6":3.45,"8":3.4},
      {"f":700,"1":3.37,"2":3.37,"4":3.37,"5":3.4,"6":3.4,"8":3.35},
      {"f":800,"1":3.37,"2":3.35,"4":3.4,"5":3.45,"6":3.4,"8":3.35},
      {"f":900,"1":3.35,"2":3.3,"4":3.4,"5":3.45,"6":3.35,"8":3.3},
      {"f":1000,"1":3.35,"2":3.3,"4":3.38,"5":3.45,"6":3.35,"8":3.3},
      {"f":1200,"1":3.3,"2":3.28,"4":3.35,"5":3.45,"6":3.3,"8":3.3},
      {"f":1400,"1":3.1,"2":3.25,"4":3.2,"5":3.4,"6":3.25,"8":3.25},
      {"f":1500,"1":2.6,"2":3.1,"4":2.9,"5":3.3,"6":3.15,"8":3.05},
      {"f":1550,"1":3.0,"2":3.2,"4":2.9,"5":3.3,"6":3.4,"8":3.2},
      {"f":1650,"1":3.4,"2":3.4,"4":3.5,"5":3.5,"6":3.9,"8":3.4},
      {"f":1700,"1":3.6,"2":3.6,"4":3.7,"5":3.7,"6":4.2,"8":3.8},
      {"f":1800,"1":3.5,"2":3.5,"4":3.6,"5":3.6,"6":3.9,"8":3.6},
      {"f":2000,"1":3.4,"2":3.4,"4":3.5,"5":3.5,"6":3.7,"8":3.5}
    ],
    "phVs": [
      {"f":10,"1":-2,"2":-2,"4":-2,"5":-2,"6":-1,"8":-3},
      {"f":15,"1":-2.5,"2":-2.5,"4":-2.5,"5":-2.5,"6":-1.5,"8":-3.5},
      {"f":20,"1":-3,"2":-3,"4":-3,"5":-3,"6":-2,"8":-4},
      {"f":25,"1":-4,"2":-4,"4":-4,"5":-4,"6":-3,"8":-5},
      {"f":30,"1":-6,"2":-6,"4":-6,"5":-6,"6":-5,"8":-7},
      {"f":33,"1":-9,"2":-9,"4":-9,"5":-9,"6":-8,"8":-10},
      {"f":35,"1":-13,"2":-13,"4":-13,"5":-13,"6":-12,"8":-13},
      {"f":37,"1":-20,"2":-20,"4":-20,"5":-20,"6":-19,"8":-18},
      {"f":38.5,"1":-38,"2":-38,"4":-38,"5":-38,"6":-36,"8":-30},
      {"f":39.5,"1":-85,"2":-85,"4":-85,"5":-85,"6":-82,"8":-70},
      {"f":40.3,"1":-155,"2":-155,"4":-155,"5":-155,"6":-152,"8":-145},
      {"f":41,"1":-173,"2":-173,"4":-173,"5":-173,"6":-172,"8":-172},
      {"f":42,"1":-176,"2":-176,"4":-176,"5":-176,"6":-176,"8":-177},
      {"f":44,"1":-176,"2":-174,"4":-173,"5":-176,"6":-176,"8":-178},
      {"f":45.5,"1":-179,"2":-178,"4":-177,"5":-179,"6":-179,"8":-179},
      {"f":46.5,"1":-179,"2":-179,"4":-179,"5":-179,"6":-179,"8":180},
      {"f":46.9,"1":-179,"2":-179,"4":-179,"5":-179,"6":-179,"8":-180},
      {"f":47.3,"1":-179,"2":-179,"4":-179,"5":-179,"6":-179,"8":180},
      {"f":47.7,"1":-179,"2":-179,"4":-179,"5":-179,"6":-179,"8":-180},
      {"f":48.1,"1":-179,"2":-179,"4":-179,"5":-179,"6":-179,"8":180},
      {"f":48.5,"1":-179,"2":-179,"4":-179,"5":-179,"6":-179,"8":-180},
      {"f":48.9,"1":-179,"2":-179,"4":-179,"5":-179,"6":-179,"8":180},
      {"f":49.3,"1":-179,"2":-179,"4":-179,"5":-179,"6":-179,"8":-180},
      {"f":49.7,"1":-179,"2":-179,"4":-179,"5":-179,"6":-179,"8":180},
      {"f":50.1,"1":-179,"2":-179,"4":-179,"5":-179,"6":-179,"8":-180},
      {"f":50.5,"1":-179,"2":-179,"4":-179,"5":-179,"6":-179,"8":180},
      {"f":50.9,"1":-179,"2":-179,"4":-179,"5":-179,"6":-179,"8":-180},
      {"f":51.3,"1":178,"2":-179,"4":-179,"5":-179,"6":-179,"8":180},
      {"f":51.7,"1":178,"2":-179,"4":-179,"5":-179,"6":-179,"8":-180},
      {"f":52.1,"1":178,"2":-179,"4":-179,"5":-179,"6":-179,"8":180},
      {"f":52.5,"1":178,"2":-179,"4":-179,"5":-179,"6":-179,"8":-180},
      {"f":52.9,"1":178,"2":-179,"4":-179,"5":178,"6":-179,"8":180},
      {"f":53.3,"1":178,"2":-179,"4":-179,"5":178,"6":-179,"8":-180},
      {"f":53.7,"1":178,"2":178,"4":-179,"5":178,"6":-179,"8":180},
      {"f":54.1,"1":178,"2":178,"4":-179,"5":178,"6":-179,"8":-180},
      {"f":54.6,"1":178,"2":178,"4":-179,"5":178,"6":-179,"8":180},
      {"f":55.0,"1":178,"2":178,"4":-179,"5":178,"6":-179,"8":-180},
      {"f":55.4,"1":178,"2":178,"4":-179,"5":178,"6":-179,"8":178},
      {"f":55.8,"1":178,"2":178,"4":-179,"5":178,"6":178,"8":178},
      {"f":56.2,"1":178,"2":178,"4":-179,"5":178,"6":178,"8":178},
      {"f":56.6,"1":178,"2":178,"4":178,"5":178,"6":178,"8":178},
      {"f":60,"1":178,"2":178,"4":178,"5":178,"6":178,"8":177},
      {"f":70,"1":177,"2":177,"4":177,"5":177,"6":177,"8":176},
      {"f":80,"1":176,"2":176,"4":176,"5":176,"6":176,"8":175},
      {"f":85,"1":175,"2":175,"4":175,"5":175,"6":175,"8":174},
      {"f":88,"1":172,"2":172,"4":172,"5":172,"6":172,"8":171},
      {"f":90,"1":166,"2":166,"4":166,"5":166,"6":167,"8":165},
      {"f":92,"1":152,"2":152,"4":152,"5":152,"6":154,"8":150},
      {"f":93.5,"1":115,"2":115,"4":115,"5":115,"6":118,"8":110},
      {"f":95,"1":65,"2":65,"4":65,"5":65,"6":68,"8":60},
      {"f":96.5,"1":32,"2":32,"4":32,"5":32,"6":34,"8":30},
      {"f":98,"1":23,"2":23,"4":23,"5":23,"6":24,"8":22},
      {"f":100,"1":22,"2":22,"4":22,"5":22,"6":23,"8":21},
      {"f":102,"1":25,"2":25,"4":25,"5":25,"6":26,"8":24},
      {"f":104,"1":26,"2":26,"4":26,"5":26,"6":27,"8":25},
      {"f":106,"1":17,"2":17,"4":17,"5":17,"6":18,"8":16},
      {"f":108,"1":7,"2":7,"4":7,"5":7,"6":8,"8":6},
      {"f":112,"1":0,"2":0,"4":0,"5":0,"6":1,"8":0},
      {"f":120,"1":-2,"2":-2,"4":-2,"5":-2,"6":-1,"8":-2},
      {"f":150,"1":-5,"2":-5,"4":-5,"5":-5,"6":-4,"8":-5},
      {"f":200,"1":-8,"2":-8,"4":-8,"5":-8,"6":-7,"8":-8},
      {"f":300,"1":-12,"2":-12,"4":-12,"5":-12,"6":-11,"8":-12},
      {"f":500,"1":-19,"2":-19,"4":-19,"5":-19,"6":-18,"8":-19},
      {"f":700,"1":-24,"2":-24,"4":-24,"5":-23,"6":-23,"8":-24},
      {"f":800,"1":-25,"2":-25,"4":-24,"5":-24,"6":-25,"8":-26},
      {"f":850,"1":-27,"2":-27,"4":-26,"5":-27,"6":-27,"8":-28},
      {"f":900,"1":-30,"2":-30,"4":-22,"5":-30,"6":-29,"8":-31},
      {"f":930,"1":-31,"2":-31,"4":-30,"5":-31,"6":-31,"8":-32},
      {"f":1000,"1":-35,"2":-35,"4":-35,"5":-35,"6":-34,"8":-36},
      {"f":1200,"1":-42,"2":-42,"4":-42,"5":-42,"6":-41,"8":-43},
      {"f":1400,"1":-50,"2":-50,"4":-49,"5":-50,"6":-49,"8":-51},
      {"f":1480,"1":-45,"2":-53,"4":-50,"5":-53,"6":-52,"8":-54},
      {"f":1500,"1":-43,"2":-52,"4":-47,"5":-53,"6":-50,"8":-55},
      {"f":1550,"1":-52,"2":-54,"4":-47,"5":-55,"6":-52,"8":-56},
      {"f":1650,"1":-58,"2":-58,"4":-56,"5":-60,"6":-55,"8":-59},
      {"f":1800,"1":-62,"2":-62,"4":-61,"5":-68,"6":-60,"8":-62},
      {"f":2000,"1":-65,"2":-65,"4":-64,"5":-72,"6":-63,"8":-65}
    ]
  }
}
